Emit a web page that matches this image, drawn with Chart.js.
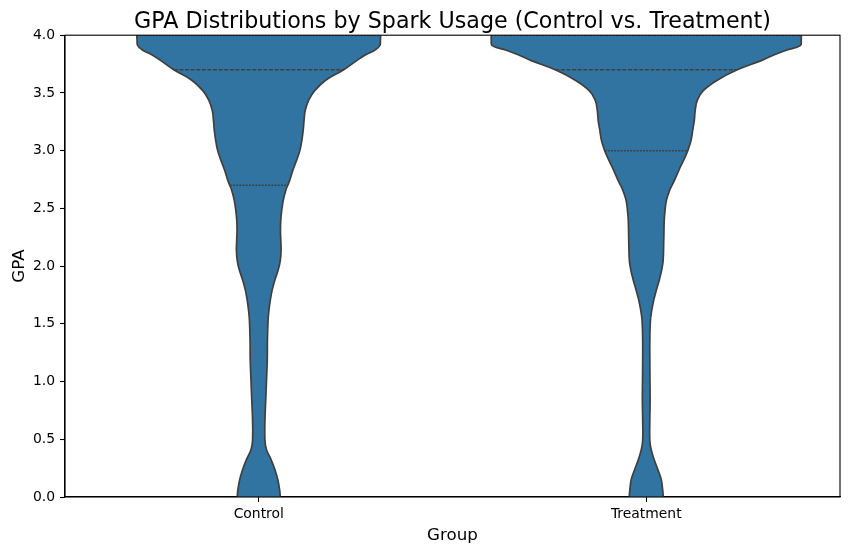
<!DOCTYPE html>
<html>
<head>
<meta charset="utf-8">
<script src="https://cdn.jsdelivr.net/npm/chart.js@4.4.1/dist/chart.umd.min.js"></script>
<style>html,body{margin:0;padding:0;background:#fff;overflow:hidden}</style>
</head>
<body>
<canvas id="c" width="854" height="556"></canvas>
<script>
// ---- data ----
const categories = ['Control', 'Treatment'];
const yTickValues = [0, 0.5, 1.0, 1.5, 2.0, 2.5, 3.0, 3.5, 4.0];
const yTickLabels = ['0.0', '0.5', '1.0', '1.5', '2.0', '2.5', '3.0', '3.5', '4.0'];

// estimated kernel density (relative units) along GPA
const controlGpa = [4.00, 3.96, 3.91, 3.87, 3.83, 3.78, 3.70, 3.61, 3.52, 3.44, 3.35, 3.26, 3.18, 3.09, 3.00,
  2.92, 2.83, 2.74, 2.70, 2.66, 2.57, 2.48, 2.40, 2.31, 2.23, 2.14, 2.05, 1.97, 1.88, 1.79, 1.71, 1.62, 1.53,
  1.36, 1.19, 1.01, 0.84, 0.67, 0.49, 0.41, 0.32, 0.23, 0.15, 0.06, 0.00];
const controlDensity = [0.787, 0.785, 0.781, 0.748, 0.690, 0.632, 0.548, 0.432, 0.361, 0.323, 0.300, 0.292, 0.287, 0.278, 0.265,
  0.245, 0.220, 0.199, 0.187, 0.175, 0.158, 0.148, 0.142, 0.140, 0.142, 0.144, 0.139, 0.126, 0.104, 0.086, 0.075, 0.066, 0.060,
  0.056, 0.055, 0.050, 0.045, 0.040, 0.040, 0.050, 0.081, 0.106, 0.123, 0.135, 0.139];

const treatmentGpa = [4.00, 3.96, 3.91, 3.87, 3.83, 3.78, 3.70, 3.61, 3.52, 3.44, 3.35, 3.26, 3.18, 3.09, 3.00,
  2.92, 2.83, 2.74, 2.66, 2.57, 2.48, 2.40, 2.23, 2.05, 1.97, 1.88, 1.79, 1.71, 1.62, 1.53,
  1.36, 1.19, 1.01, 0.84, 0.67, 0.49, 0.41, 0.32, 0.23, 0.15, 0.06, 0.00];
const treatmentDensity = [1.000, 1.000, 0.994, 0.903, 0.826, 0.742, 0.587, 0.458, 0.368, 0.330, 0.316, 0.310, 0.300, 0.289, 0.268,
  0.242, 0.210, 0.181, 0.152, 0.130, 0.121, 0.116, 0.113, 0.109, 0.100, 0.084, 0.065, 0.049, 0.036, 0.027,
  0.023, 0.023, 0.024, 0.025, 0.023, 0.023, 0.032, 0.052, 0.077, 0.097, 0.106, 0.110];

// quartiles: Q1, median, Q3
const controlQuartiles = [2.7, 3.7, 4.0];
const treatmentQuartiles = [3.0, 3.7, 4.0];

// ---- build ----
const FILL = '#3274a1';
const EDGE = '#3f3f3f';
const HALF = 0.4; // max half-width in category units
const maxDensity = Math.max(...controlDensity, ...treatmentDensity);

function edge(gpa, dens, center, sign) {
  return gpa.map((g, i) => ({ x: center + sign * dens[i] / maxDensity * HALF, y: g }));
}
function densityAt(gpa, dens, q) {
  for (let i = 0; i < gpa.length - 1; i++) {
    const a = gpa[i], b = gpa[i + 1];
    if (q <= a && q >= b) {
      const t = a === b ? 0 : (a - q) / (a - b);
      return dens[i] + t * (dens[i + 1] - dens[i]);
    }
  }
  return 0;
}

const violins = [
  { gpa: controlGpa, dens: controlDensity, q: controlQuartiles },
  { gpa: treatmentGpa, dens: treatmentDensity, q: treatmentQuartiles }
];

const datasets = [];
violins.forEach((v, c) => {
  datasets.push({
    data: edge(v.gpa, v.dens, c, -1), order: 2,
    borderColor: EDGE, borderWidth: 1.7, backgroundColor: FILL,
    fill: '+1', pointRadius: 0, tension: 0.4
  });
  datasets.push({
    data: edge(v.gpa, v.dens, c, 1), order: 1,
    borderColor: EDGE, borderWidth: 1.7, backgroundColor: FILL,
    fill: false, pointRadius: 0, tension: 0.4
  });
});
violins.forEach((v, c) => {
  v.q.forEach((q, k) => {
    const w = densityAt(v.gpa, v.dens, q) / maxDensity * HALF;
    datasets.push({
      data: [{ x: c - w, y: q }, { x: c + w, y: q }], order: 0,
      borderColor: EDGE, borderWidth: 1.5, fill: false, pointRadius: 0,
      tension: 0,
      borderDash: k === 1 ? [4, 1.6] : [2, 1.2]
    });
  });
});

const framePlugin = {
  id: 'frame',
  afterDraw(chart) {
    const { ctx, chartArea: a } = chart;
    ctx.save();
    ctx.strokeStyle = '#000';
    ctx.lineWidth = 1.1;
    ctx.strokeRect(a.left, a.top, a.right - a.left, a.bottom - a.top);
    ctx.restore();
  }
};

Chart.defaults.font.family = '"DejaVu Sans", sans-serif';
Chart.defaults.color = '#000';

new Chart(document.getElementById('c'), {
  type: 'line',
  data: { datasets },
  options: {
    indexAxis: 'y',
    responsive: false,
    animation: false,
    devicePixelRatio: 1,
    layout: { padding: { left: 0, right: 14, top: 0, bottom: 0 } },
    plugins: {
      legend: { display: false },
      tooltip: { enabled: false },
      title: {
        display: true,
        fullSize: false,
        text: 'GPA Distributions by Spark Usage (Control vs. Treatment)',
        font: { size: 22.2, weight: 'normal', lineHeight: 1.0 },
        color: '#000',
        padding: { top: 11, bottom: 2 }
      }
    },
    scales: {
      x: {
        type: 'linear',
        min: -0.5, max: 1.5,
        afterBuildTicks: s => { s.ticks = categories.map((_, i) => ({ value: i })); },
        afterFit: s => { s.height = 59; },
        ticks: {
          callback: v => categories[v] ?? '',
          font: { size: 13.9 }, color: '#000', padding: 4, maxRotation: 0
        },
        grid: { drawOnChartArea: false, drawTicks: true, tickLength: 5, color: '#000', tickWidth: 1.1 },
        border: { display: true, color: '#000', width: 1.1 },
        title: { display: true, text: 'Group', font: { size: 16.7 }, color: '#000', padding: { top: 0, bottom: 10 } }
      },
      y: {
        type: 'linear',
        min: 0, max: 4,
        afterBuildTicks: s => { s.ticks = yTickValues.map(v => ({ value: v })); },
        afterFit: s => { s.width = 65; },
        ticks: {
          callback: (v, i) => yTickLabels[i],
          font: { size: 13.9 }, color: '#000', padding: 5
        },
        grid: { drawOnChartArea: false, drawTicks: true, tickLength: 5, color: '#000', tickWidth: 1.1 },
        border: { display: true, color: '#000', width: 1.1 },
        title: { display: true, text: 'GPA', font: { size: 16.7 }, color: '#000', padding: { top: 10, bottom: 0 } }
      }
    }
  },
  plugins: [framePlugin]
});
</script>
</body>
</html>
